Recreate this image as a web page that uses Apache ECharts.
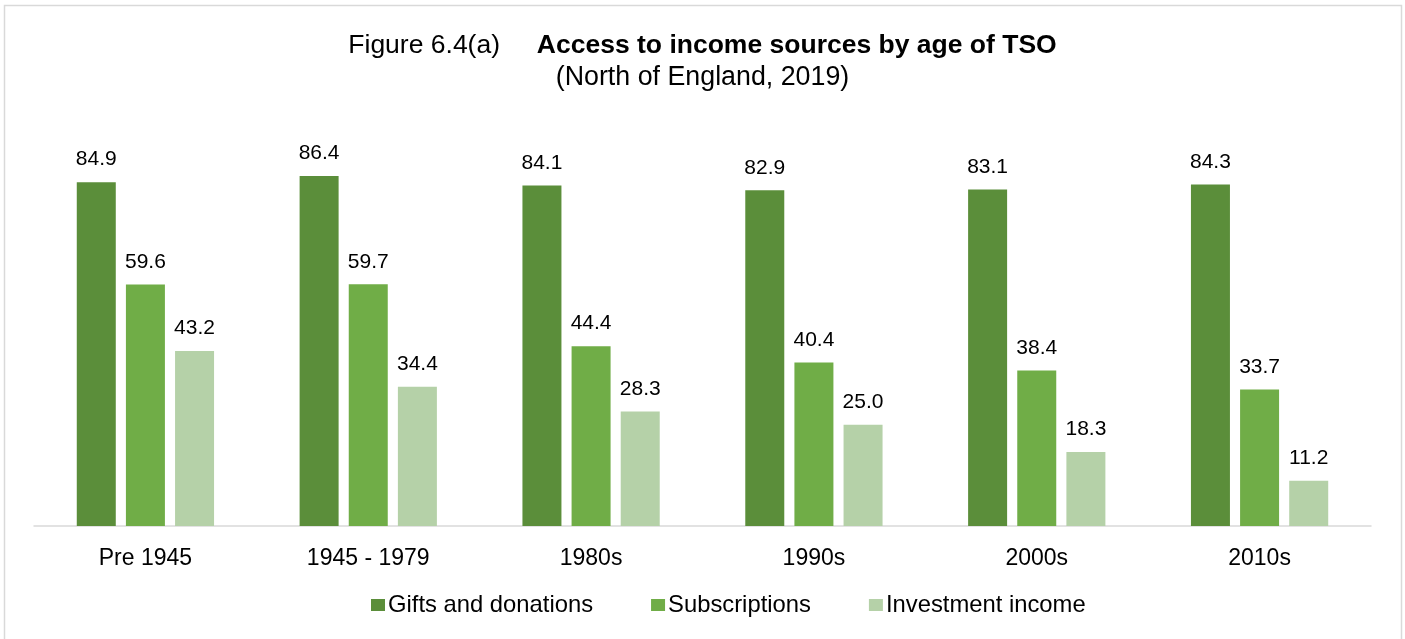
<!DOCTYPE html>
<html>
<head>
<meta charset="utf-8">
<script src="https://cdn.jsdelivr.net/npm/echarts@6/dist/echarts.min.js"></script>
<style>
  html, body { margin: 0; padding: 0; background: #fff; }
  #chart { width: 1405px; height: 639px; }
</style>
</head>
<body>
<div id="chart"></div>
<script>
// data
const categories = ['Pre 1945', '1945 - 1979', '1980s', '1990s', '2000s', '2010s'];
const gifts = [84.9, 86.4, 84.1, 82.9, 83.1, 84.3];
const subscriptions = [59.6, 59.7, 44.4, 40.4, 38.4, 33.7];
const investment = [43.2, 34.4, 28.3, 25.0, 18.3, 11.2];
const seriesNames = ['Gifts and donations', 'Subscriptions', 'Investment income'];
const colors = ['#5B8E3A', '#70AD47', '#B5D1A8'];

const font = 'Arial, "Liberation Sans", sans-serif';

const myChart = echarts.init(document.getElementById('chart'));

function bar(name, data, color) {
  return {
    name: name,
    type: 'bar',
    data: data,
    barWidth: 39,
    barGap: '26%',
    itemStyle: { color: color },
    label: {
      show: true,
      position: 'top',
      distance: 12,
      formatter: (p) => p.value.toFixed(1),
      color: '#000',
      fontSize: 21,
      fontFamily: font
    }
  };
}

const option = {
  animation: false,
  textStyle: { fontFamily: font },
  graphic: [{
    type: 'rect',
    shape: { x: 4.5, y: 5.5, width: 1397, height: 700 },
    style: { fill: 'none', stroke: '#d9d9d9', lineWidth: 1.5 },
    silent: true
  }],
  title: [
    {
      text: '{n|Figure 6.4(a)     }{b|Access to income sources by age of TSO}',
      left: 'center',
      top: 27,
      textStyle: {
        rich: {
          n: { fontSize: 26.5, color: '#000', fontWeight: 'normal', fontFamily: font },
          b: { fontSize: 26.5, color: '#000', fontWeight: 'bold', fontFamily: font }
        }
      }
    },
    {
      text: '(North of England, 2019)',
      left: 'center',
      top: 59,
      textStyle: { fontSize: 26.8, color: '#000', fontWeight: 'normal', fontFamily: font }
    }
  ],
  legend: {
    bottom: 17,
    left: 366,
    icon: 'rect',
    itemWidth: 14,
    itemHeight: 12,
    itemGap: 58,
    textStyle: { fontSize: 23.8, color: '#000', fontFamily: font, padding: [0, 0, 0, -2] },
    data: seriesNames
  },
  grid: { left: 34, right: 34, top: 121, bottom: 113, containLabel: false },
  xAxis: {
    type: 'category',
    data: categories,
    axisTick: { show: false },
    axisLine: { lineStyle: { color: '#d9d9d9', width: 1.5 } },
    axisLabel: { color: '#000', fontSize: 23, margin: 21, fontFamily: font }
  },
  yAxis: {
    type: 'value',
    min: 0,
    max: 100,
    show: false,
    splitLine: { show: false }
  },
  series: [
    bar(seriesNames[0], gifts, colors[0]),
    bar(seriesNames[1], subscriptions, colors[1]),
    bar(seriesNames[2], investment, colors[2])
  ]
};

myChart.setOption(option);
</script>
</body>
</html>
